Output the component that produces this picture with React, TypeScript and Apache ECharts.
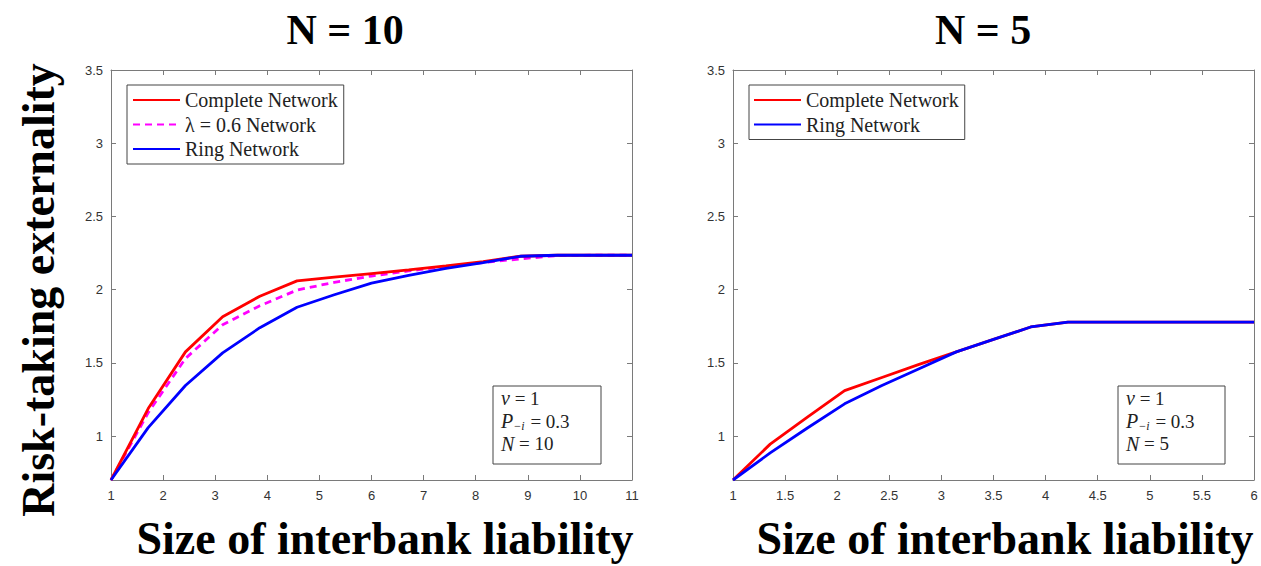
import React, { useEffect, useRef } from "react";
import * as echarts from "echarts";

// ---- data ----
const xLeft = [1, 1.714, 2.429, 3.143, 3.857, 4.571, 5.286, 6, 6.714, 7.429, 8.143, 8.857, 9.571, 10.286, 11];
const completeLeft = [0.7, 1.188, 1.575, 1.815, 1.955, 2.06, 2.085, 2.11, 2.135, 2.162, 2.192, 2.228, 2.235, 2.235, 2.235];
const lambdaLeft = [0.7, 1.16, 1.53, 1.76, 1.89, 1.997, 2.05, 2.093, 2.128, 2.158, 2.185, 2.21, 2.233, 2.235, 2.235];
const ringLeft = [0.7, 1.058, 1.345, 1.568, 1.74, 1.88, 1.965, 2.045, 2.098, 2.145, 2.185, 2.228, 2.235, 2.235, 2.235];

const xRight = [1, 1.357, 1.714, 2.071, 2.429, 2.786, 3.143, 3.5, 3.857, 4.214, 4.571, 4.929, 5.286, 5.643, 6];
const completeRight = [0.7, 0.945, 1.13, 1.31, 1.4, 1.49, 1.575, 1.66, 1.745, 1.778, 1.778, 1.778, 1.778, 1.778, 1.778];
const ringRight = [0.7, 0.885, 1.055, 1.22, 1.345, 1.46, 1.575, 1.66, 1.745, 1.778, 1.778, 1.778, 1.778, 1.778, 1.778];

const yTicks = [1, 1.5, 2, 2.5, 3, 3.5];
const titles = ["N = 10", "N = 5"];
const xName = "Size of interbank liability";
const yName = "Risk-taking externality";
const seriesNames = ["Complete Network", "λ = 0.6 Network", "Ring Network"];
const noteN = ["10", "5"];

const zip = (xs: number[], ys: number[]) => xs.map((x, i) => [x, ys[i]]);

const AXIS = "#7a7a7a";
const SERIF = "'Liberation Serif', 'Times New Roman', serif";
const SANS = "'Liberation Sans', Arial, Helvetica, sans-serif";
const LW = 2.8;

function xAxisPair(grid: number, min: number, max: number, interval: number) {
  const base = {
    gridIndex: grid,
    type: "value",
    min,
    max,
    interval,
    axisLine: { show: true, onZero: false, lineStyle: { color: AXIS, width: 1 } },
    axisTick: { show: true, inside: true, length: 5, lineStyle: { color: AXIS } },
    splitLine: { show: false },
  };
  return [
    { ...base, position: "bottom", axisLabel: { color: "#333", fontSize: 13, fontFamily: SANS, margin: 9 } },
    { ...base, position: "top", axisLabel: { show: false } },
  ];
}

function yAxisPair(grid: number) {
  const base = {
    gridIndex: grid,
    type: "value",
    min: 0.7,
    max: 3.5,
    axisLine: { show: true, onZero: false, lineStyle: { color: AXIS, width: 1 } },
    axisTick: { show: true, inside: true, length: 5, customValues: yTicks, lineStyle: { color: AXIS } },
    splitLine: { show: false },
  };
  return [
    {
      ...base,
      position: "left",
      axisLabel: { color: "#333", fontSize: 13, fontFamily: SANS, margin: 8, customValues: yTicks },
    },
    { ...base, position: "right", axisLabel: { show: false, customValues: yTicks } },
  ];
}

function noteBox(x: number, y: number, w: number, h: number, n: string) {
  return {
    type: "group",
    children: [
      {
        type: "rect",
        shape: { x, y, width: w, height: h },
        style: { fill: "#fff", stroke: "#444", lineWidth: 1 },
      },
      {
        type: "text",
        x: x + 8,
        y: y + 1,
        style: {
          text: `{i|v} = 1\n{i|P}{s|−i} = 0.3\n{i|N} = ${n}`,
          font: `19px ${SERIF}`,
          fill: "#222",
          lineHeight: 22.7,
          verticalAlign: "top",
          rich: {
            i: { fontStyle: "italic", fontFamily: SERIF, fontSize: 20, lineHeight: 22.7 },
            s: { fontStyle: "italic", fontFamily: SERIF, fontSize: 12, lineHeight: 22.7, padding: [9, 1, 0, 0] },
          },
        },
      },
    ],
  };
}

function lineSeries(name: string, xi: number, xs: number[], ys: number[], color: string, z: number, dashed = false) {
  return {
    name,
    type: "line",
    xAxisIndex: xi,
    yAxisIndex: xi,
    data: zip(xs, ys),
    symbol: "none",
    showSymbol: false,
    lineStyle: { color, width: LW, type: dashed ? [7, 5] : "solid" },
    itemStyle: { color },
    z,
  };
}

export default function App() {
  const ref = useRef<HTMLDivElement>(null);
  useEffect(() => {
    if (!ref.current) return;
    const chart = echarts.init(ref.current, null, { renderer: "svg" });
    const legendBase = {
      orient: "vertical",
      backgroundColor: "#fff",
      borderColor: "#444",
      borderWidth: 1,
      borderRadius: 0,
      itemWidth: 47,
      itemHeight: 14,
      itemGap: 4.5,
      selectedMode: false,
      itemStyle: { opacity: 0 },
      textStyle: { fontFamily: SERIF, fontSize: 20, color: "#222" },
    };
    chart.setOption({
      animation: false,
      backgroundColor: "#fff",
      grid: [
        { left: 111, top: 70, width: 521, height: 410 },
        { left: 733, top: 70, width: 521, height: 410 },
      ],
      xAxis: [...xAxisPair(0, 1, 11, 1), ...xAxisPair(1, 1, 6, 0.5)],
      yAxis: [...yAxisPair(0), ...yAxisPair(1)],
      legend: [
        {
          ...legendBase,
          left: 127,
          top: 85,
          padding: [5, 6, 5, 5],
          data: seriesNames,
        },
        {
          ...legendBase,
          left: 749,
          top: 85,
          padding: [5, 6, 5, 4],
          data: [seriesNames[0], seriesNames[2]],
        },
      ],
      series: [
        lineSeries(seriesNames[0], 0, xLeft, completeLeft, "#ff0000", 3),
        lineSeries(seriesNames[1], 0, xLeft, lambdaLeft, "#ff00ff", 2, true),
        lineSeries(seriesNames[2], 0, xLeft, ringLeft, "#0000ff", 4),
        lineSeries(seriesNames[0], 2, xRight, completeRight, "#ff0000", 3),
        lineSeries(seriesNames[2], 2, xRight, ringRight, "#0000ff", 4),
      ],
      graphic: [
        {
          type: "text",
          x: 345,
          y: 30,
          style: { text: titles[0], font: `bold 42px ${SERIF}`, fill: "#000", align: "center", verticalAlign: "middle" },
        },
        {
          type: "text",
          x: 983,
          y: 30,
          style: { text: titles[1], font: `bold 42px ${SERIF}`, fill: "#000", align: "center", verticalAlign: "middle" },
        },
        {
          type: "text",
          x: 38,
          y: 290,
          rotation: Math.PI / 2,
          style: { text: yName, font: `bold 46px ${SERIF}`, fill: "#000", align: "center", verticalAlign: "middle" },
        },
        {
          type: "text",
          x: 385,
          y: 538,
          style: { text: xName, font: `bold 46px ${SERIF}`, fill: "#000", align: "center", verticalAlign: "middle" },
        },
        {
          type: "text",
          x: 1005,
          y: 538,
          style: { text: xName, font: `bold 46px ${SERIF}`, fill: "#000", align: "center", verticalAlign: "middle" },
        },
        noteBox(493, 386, 108, 78, noteN[0]),
        noteBox(1118, 386, 107, 78, noteN[1]),
      ],
    });
    return () => chart.dispose();
  }, []);
  return (
    <div
      ref={ref}
      style={{ position: "fixed", left: 0, top: 0, width: 1261, height: 566, background: "#fff" }}
    />
  );
}
